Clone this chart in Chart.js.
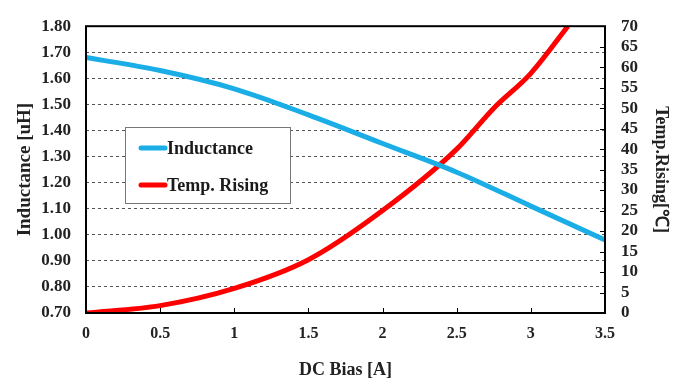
<!DOCTYPE html>
<html>
<head>
<meta charset="utf-8">
<script src="https://cdn.jsdelivr.net/npm/chart.js@4/dist/chart.umd.min.js"></script>
<style>
html,body{margin:0;padding:0;background:#fff;}
#wrap{width:678px;height:385px;position:relative;}
</style>
</head>
<body>
<div id="wrap"><canvas id="c" width="678" height="385"></canvas></div>
<script>
// ---- data ----
const biasA = [0, 0.5, 1, 1.5, 2, 2.5, 3, 3.5];
const inductance = [1.68, 1.63, 1.56, 1.46, 1.35, 1.24, 1.11, 0.98];
const tempBiasA = [0, 0.5, 1, 1.5, 2, 2.5, 2.75, 3, 3.25];
const tempRising = [0, 1.8, 6, 13, 25, 40, 50, 58.5, 70];
const seriesNames = ['Inductance', 'Temp. Rising'];
const xTitle = 'DC Bias [A]';
const yLeftTitle = 'Inductance [uH]';
const yRightTitle = 'Temp.Rising[\u2103]';

const FONT = '"Liberation Serif", "Times New Roman", serif';

const frameAndLegend = {
  id: 'frameAndLegend',
  afterDatasetsDraw(chart) {
    const ctx = chart.ctx, a = chart.chartArea;
    ctx.save();
    // inward ticks
    ctx.strokeStyle = '#000'; ctx.lineWidth = 1;
    const x = chart.scales.x, yr = chart.scales.yR;
    x.ticks.forEach(t => { const px = Math.round(x.getPixelForValue(t.value)) + 0.5;
      ctx.beginPath(); ctx.moveTo(px, a.bottom); ctx.lineTo(px, a.bottom - 5); ctx.stroke(); });
    yr.ticks.forEach(t => { const py = Math.round(yr.getPixelForValue(t.value)) + 0.5;
      ctx.beginPath(); ctx.moveTo(a.right, py); ctx.lineTo(a.right - 5, py); ctx.stroke(); });
    // frame
    ctx.lineWidth = 2;
    ctx.strokeRect(a.left, a.top, a.right - a.left, a.bottom - a.top);
    // legend box
    const lx = 125, ly = 127, lw = 165, lh = 76;
    ctx.fillStyle = '#fff';
    ctx.fillRect(lx, ly, lw, lh);
    ctx.lineWidth = 1; ctx.strokeStyle = '#777';
    ctx.strokeRect(lx + 0.5, ly + 0.5, lw, lh);
    ctx.font = 'bold 18px ' + FONT;
    ctx.textBaseline = 'middle'; ctx.textAlign = 'left';
    chart.data.datasets.forEach((ds, i) => {
      const cy = ly + 21 + i * 37;
      ctx.strokeStyle = ds.borderColor; ctx.lineWidth = 5; ctx.lineCap = 'round';
      ctx.beginPath(); ctx.moveTo(lx + 16, cy); ctx.lineTo(lx + 40, cy); ctx.stroke();
      ctx.fillStyle = '#1a1a1a';
      ctx.fillText(ds.label, lx + 42, cy + 1);
    });
    ctx.restore();
  }
};

new Chart(document.getElementById('c'), {
  type: 'line',
  data: {
    datasets: [
      { label: seriesNames[0], data: biasA.map((b, i) => ({x: b, y: inductance[i]})),
        borderColor: '#1aade6', backgroundColor: '#1aade6', borderWidth: 5,
        pointRadius: 0, cubicInterpolationMode: 'monotone', yAxisID: 'yL' },
      { label: seriesNames[1], data: tempBiasA.map((b, i) => ({x: b, y: tempRising[i]})),
        borderColor: '#ff0000', backgroundColor: '#ff0000', borderWidth: 5,
        pointRadius: 0, cubicInterpolationMode: 'monotone', yAxisID: 'yR' }
    ]
  },
  options: {
    responsive: false, animation: false, devicePixelRatio: 1,
    layout: { padding: { top: 16, left: 0, right: 0, bottom: 0 } },
    plugins: { legend: { display: false }, tooltip: { enabled: false } },
    scales: {
      x: {
        type: 'linear', min: 0, max: 3.5,
        ticks: { stepSize: 0.5, autoSkip: false, maxRotation: 0, color: '#222', padding: 11,
                 callback: v => String(v), font: { family: FONT, size: 16, weight: 'bold' } },
        grid: { display: false, drawTicks: false },
        border: { display: false },
        title: { display: true, text: xTitle, color: '#222', padding: { top: 13 }, font: { family: FONT, size: 18, weight: 'bold' } },
        afterFit: s => { s.height = 72; }
      },
      yL: {
        type: 'linear', position: 'left', min: 0.7, max: 1.8,
        ticks: { stepSize: 0.1, autoSkip: false, color: '#222', padding: 15, callback: v => v.toFixed(2), font: { family: FONT, size: 17, weight: 'bold' } },
        grid: { drawTicks: false, color: '#555', lineWidth: 1 },
        border: { display: false, dash: [3, 3] },
        title: { display: true, text: yLeftTitle, color: '#222', padding: { top: 14, bottom: 0 }, font: { family: FONT, size: 19, weight: 'bold' } },
        afterFit: s => { s.width = 86; }
      },
      yR: {
        type: 'linear', position: 'right', min: 0, max: 70,
        ticks: { stepSize: 5, autoSkip: false, color: '#222', padding: 16, font: { family: FONT, size: 17, weight: 'bold' } },
        grid: { display: false, drawTicks: false },
        border: { display: false },
        title: { display: true, text: yRightTitle, color: '#222', padding: { top: 7, bottom: 10 }, font: { family: FONT, size: 18, weight: 'bold' } },
        afterFit: s => { s.width = 73; }
      }
    }
  },
  plugins: [frameAndLegend]
});
</script>
</body>
</html>
